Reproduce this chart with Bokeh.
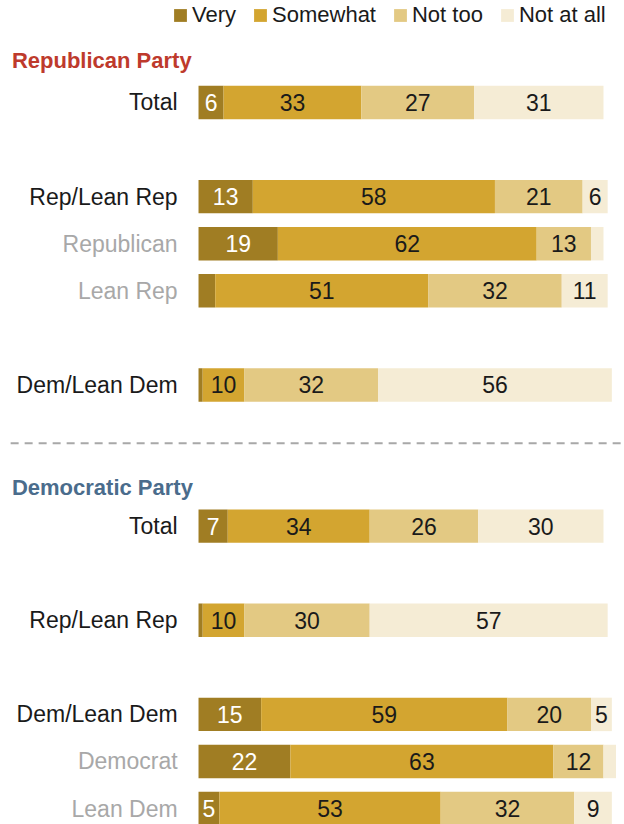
from bokeh.plotting import figure
from bokeh.models import ColumnDataSource, Range1d, Legend, LegendItem
from bokeh.core.properties import value
from bokeh.embed import file_html
from bokeh.resources import INLINE

# ---- data ----
categories = ["Total", "Rep/Lean Rep", "Republican", "Lean Rep", "Dem/Lean Dem",
              "Total", "Rep/Lean Rep", "Dem/Lean Dem", "Democrat", "Lean Dem"]
row_slots = [0, 2, 3, 4, 6, 9, 11, 13, 14, 15]
sub_group = [False, False, True, True, False, False, False, False, True, True]
very = [6, 13, 19, 4, 1, 7, 1, 15, 22, 5]
somewhat = [33, 58, 62, 51, 10, 34, 10, 59, 63, 53]
not_too = [27, 21, 13, 32, 32, 26, 30, 20, 12, 32]
not_at_all = [31, 6, 3, 11, 56, 30, 57, 5, 3, 9]
series_names = ["Very", "Somewhat", "Not too", "Not at all"]
section_titles = ["Republican Party", "Democratic Party"]

colors = ["#A07D23", "#D3A530", "#E3C983", "#F5ECD5"]
text_colors = ["white", "#1a1a1a", "#1a1a1a", "#1a1a1a"]
title_colors = ["#BE3A2C", "#4A6C8C"]
FONT = "Liberation Sans"

p = figure(width=624, height=824, output_backend="svg", toolbar_location=None,
           x_range=Range1d(-47.43, 102.03), y_range=Range1d(15.339, -2.167),
           x_axis_location=None, y_axis_location=None, min_border=0)
p.outline_line_color = None
p.xgrid.visible = False
p.ygrid.visible = False
p.background_fill_color = "white"
p.border_fill_color = "white"

series = [very, somewhat, not_too, not_at_all]
left = [0] * len(categories)
renderers = []
for name, vals, col, tcol in zip(series_names, series, colors, text_colors):
    right = [l + v for l, v in zip(left, vals)]
    src = ColumnDataSource(dict(
        y=row_slots, left=left, right=right,
        xc=[(l + r) / 2 for l, r in zip(left, right)],
        label=[str(v) if v >= 5 else "" for v in vals],
    ))
    r = p.hbar(y="y", left="left", right="right", height=0.71, source=src,
               fill_color=col, line_color=None)
    renderers.append(r)
    p.text(x="xc", y="y", text="label", source=src, text_align="center",
           text_baseline="middle", text_font=value(FONT), text_font_size="23px",
           text_color=tcol)
    left = right

# category labels
lab_src = ColumnDataSource(dict(
    x=[-5] * len(categories), y=row_slots, text=categories,
    color=["#A8A8A8" if s else "#1a1a1a" for s in sub_group],
))
p.text(x="x", y="y", text="text", source=lab_src, text_align="right",
       text_baseline="middle", text_font=value(FONT), text_font_size="23px",
       text_color="color")

# section titles
tsrc = ColumnDataSource(dict(x=[-44.7, -44.7], y=[-0.89, 8.18], text=section_titles,
                             color=title_colors))
p.text(x="x", y="y", text="text", source=tsrc, text_align="left",
       text_baseline="middle", text_font=value(FONT), text_font_size="22px",
       text_font_style="bold", text_color="color")

# divider
p.segment(x0=[-45.0], y0=[7.24], x1=[101.6], y1=[7.24], line_color="#A8A8A8",
          line_width=2, line_dash="8 6")

legend = Legend(items=[LegendItem(label=n, renderers=[r]) for n, r in zip(series_names, renderers)],
                orientation="horizontal", location=(172, 796),
                glyph_width=16, glyph_height=16, label_standoff=4, spacing=16,
                padding=0, margin=0, border_line_color=None, background_fill_alpha=0,
                label_text_font=FONT, label_text_font_size="22px",
                label_text_color="#1a1a1a", label_height=20)
p.add_layout(legend)

open("out.html", "w").write(file_html(p, INLINE))
